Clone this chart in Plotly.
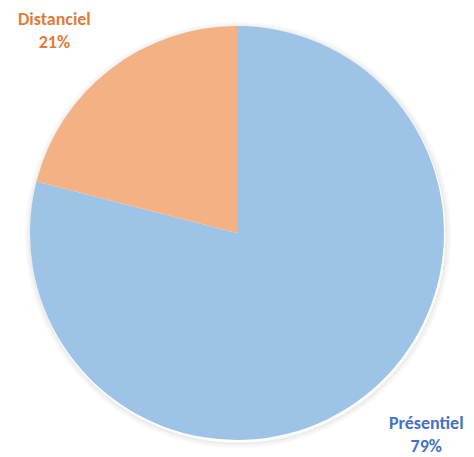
import plotly.graph_objects as go

# Mode d'enseignement
labels = ["Présentiel", "Distanciel"]
values = [79, 21]
slice_colors = ["#9DC3E6", "#F4B183"]
label_colors = ["#4472C4", "#E07B39"]

W, H = 474, 457
cx, cy, r = 237, 233, 207  # pie centre and radius, in pixels

dom_x = [(cx - r) / W, (cx + r) / W]
dom_y = [1 - (cy + r) / H, 1 - (cy - r) / H]

fig = go.Figure(
    go.Pie(
        labels=labels,
        values=values,
        sort=False,
        direction="clockwise",
        rotation=0,
        marker=dict(colors=slice_colors, line=dict(width=0)),
        textinfo="none",
        hoverinfo="label+percent",
        domain=dict(x=dom_x, y=dom_y),
        showlegend=False,
    )
)

# soft shadow ring around the pie, slightly offset downwards
shapes = []
for i, op in enumerate([0.07, 0.045, 0.025]):
    d = 1.5 + i * 1.8
    shapes.append(dict(
        type="circle", xref="paper", yref="paper", layer="below",
        x0=(cx - r - d + 1) / W, x1=(cx + r + d + 1) / W,
        y0=1 - (cy + r + d + 2) / H, y1=1 - (cy - r - d + 2) / H,
        line=dict(color=f"rgba(0,0,0,{op})", width=2),
        fillcolor="rgba(0,0,0,0)",
    ))

font_family = "Carlito, Calibri, Lato, 'Liberation Sans', Arial, sans-serif"
annotations = [
    dict(text=f"<b>{labels[1]}<br>{values[1]}%</b>", x=54 / W, y=1 - 31 / H,
         xref="paper", yref="paper", showarrow=False, align="center",
         xanchor="center", yanchor="middle",
         font=dict(family=font_family, size=18, color=label_colors[1])),
    dict(text=f"<b>{labels[0]}<br>{values[0]}%</b>", x=426 / W, y=1 - 434 / H,
         xref="paper", yref="paper", showarrow=False, align="center",
         xanchor="center", yanchor="middle",
         font=dict(family=font_family, size=18, color=label_colors[0])),
]

fig.update_layout(
    width=W, height=H,
    margin=dict(l=0, r=0, t=0, b=0),
    paper_bgcolor="white",
    plot_bgcolor="white",
    shapes=shapes,
    annotations=annotations,
)

fig.write_html("out.html")
